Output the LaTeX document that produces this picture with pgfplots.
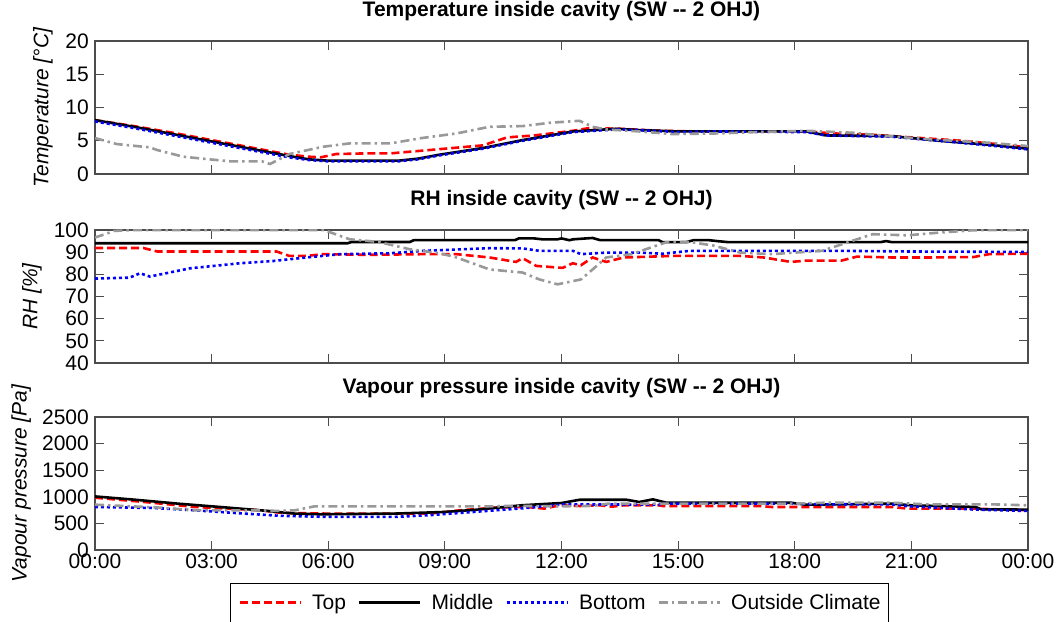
\documentclass[border=0pt]{standalone}
\usepackage{fontspec}
\setmainfont{Liberation Sans}
\usepackage{pgfplots}
\pgfplotsset{compat=1.18}
\definecolor{cred}{rgb}{1,0,0}
\definecolor{cblue}{rgb}{0,0,1}
\definecolor{cgray}{rgb}{0.6,0.6,0.6}
\definecolor{cframe}{rgb}{0.3,0.3,0.3}
\newcommand{\fs}{\fontsize{21}{25}\selectfont}
\pgfplotsset{
  myax/.style={
    scale only axis, width=933pt, height=133pt,
    xmin=0, xmax=24, xtick={0,3,...,24},
    tick align=inside, major tick length=9pt,
    axis line style={cframe, line width=1.2pt},
    every tick/.style={cframe, line width=1.2pt},
    tick label style={font=\fs},
    yticklabel style={inner xsep=6pt},
    /pgf/number format/assume math mode=true,
    /pgf/number format/1000 sep={},
    scaled y ticks=false,
    title style={at={(0.5,1)}, anchor=base, yshift=18pt, font=\fs\bfseries},
    ylabel style={font=\fs\itshape, anchor=center},
  },
  stop/.style={cred, line width=2.6pt, dash pattern=on 8pt off 4pt},
  smid/.style={black, line width=2.6pt, solid},
  sbot/.style={cblue, line width=2.6pt, dash pattern=on 3pt off 3pt},
  sout/.style={cgray, line width=2.6pt, dash pattern=on 9pt off 4pt on 2.5pt off 4pt},
}
\begin{document}
\begin{tikzpicture}
\useasboundingbox (0,0) rectangle (1059pt,621pt);
% ---------------- Temperature
\begin{axis}[myax, at={(95pt,447pt)}, anchor=south west,
  ymin=0, ymax=20, ytick={0,5,10,15,20}, xticklabels={},
  title={Temperature inside cavity (SW -{}- 2 OHJ)},
  ylabel={Temperature [°C]},
  ylabel style={at={(axis description cs:-0.0557,0.5)}}]
\addplot[stop] coordinates {(0,8.1)(1,7.2)(2,6.2)(3,5.1)(4,4.0)(5,2.9)(5.5,2.6)(5.8,2.5)(6.2,3.0)(7.0,3.1)(7.6,3.1)(8.4,3.5)(9.97,4.3)(10.6,5.5)(11.3,5.8)(12.3,6.5)(12.7,6.9)(13.5,6.8)(14.5,6.5)(15.5,6.4)(17,6.4)(18.3,6.4)(19,6.1)(20,5.9)(21,5.5)(22.3,5.0)(23.2,4.5)(24,4.0)};
\addplot[smid] coordinates {(0,8.1)(1,7.1)(2,6.0)(3,4.9)(4,3.8)(5,2.7)(5.5,2.2)(6,2.0)(7.8,2.0)(8.3,2.3)(8.86,2.9)(9.97,3.9)(11.0,5.1)(12.3,6.4)(13.4,6.8)(14,6.6)(15,6.4)(18.3,6.4)(18.8,5.8)(20.5,5.7)(21.7,5.0)(23,4.4)(24,3.8)};
\addplot[sbot] coordinates {(0,7.9)(1,6.9)(2,5.8)(3,4.7)(4,3.6)(5,2.5)(5.5,2.1)(6,1.9)(7.8,1.9)(8.3,2.2)(8.86,2.8)(9.97,3.8)(11.0,5.0)(12.3,6.3)(13.4,6.7)(14,6.6)(15,6.3)(16,6.4)(18.3,6.3)(18.8,5.8)(20.5,5.6)(21.7,5.0)(23,4.3)(24,3.7)};
\addplot[sout] coordinates {(0,5.4)(0.56,4.5)(1.41,4.0)(1.6,3.6)(2.27,2.6)(2.95,2.2)(3.5,1.9)(4.3,1.9)(4.5,1.5)(5.0,3.0)(5.87,4.1)(6.55,4.6)(7.6,4.6)(8.4,5.4)(9.3,6.1)(10.15,7.1)(11.0,7.2)(11.7,7.7)(12.46,8.0)(12.8,7.1)(13.15,6.7)(14,6.4)(14.86,6.0)(16,6.1)(17,6.3)(18.3,6.5)(19.5,6.2)(20.4,5.7)(21.5,5.2)(23,4.7)(24,4.2)};
\end{axis}
% ---------------- RH
\begin{axis}[myax, at={(95pt,258pt)}, anchor=south west,
  ymin=40, ymax=100, ytick={40,50,...,100}, xticklabels={},
  title={RH inside cavity (SW -{}- 2 OHJ)},
  ylabel={RH [\%]},
  ylabel style={at={(axis description cs:-0.0675,0.5)}}]
\addplot[stop] coordinates {(0,91.9)(1.24,91.9)(1.6,90.3)(4.67,90.3)(5.0,88.3)(5.44,88.3)(5.87,89.1)(7,88.8)(8.44,89.1)(9.3,89.1)(10.15,87.6)(10.83,85.6)(11.0,87.3)(11.35,83.8)(12.03,82.9)(12.29,85.0)(12.5,84.1)(12.8,87.6)(13.15,85.6)(13.6,87.6)(14.85,88.3)(16.6,88.3)(17.2,87.6)(17.9,85.6)(18.3,86.2)(19.2,86.2)(19.6,88.0)(20.5,87.6)(21.5,87.6)(22.6,87.8)(23.0,89.1)(24,89.3)};
\addplot[smid] coordinates {(0,94.0)(6.5,94.0)(6.6,94.6)(8.1,94.6)(8.2,95.4)(10.8,95.4)(10.9,96.2)(11.3,96.2)(11.5,95.8)(11.9,95.8)(12.0,96.2)(12.2,95.4)(12.3,95.8)(12.8,96.4)(13.0,95.4)(14.5,95.4)(14.6,94.5)(15.2,94.5)(15.4,95.4)(15.8,95.4)(16.0,95.0)(16.3,94.5)(20.2,94.5)(20.35,95.0)(20.5,94.5)(24,94.5)};
\addplot[sbot] coordinates {(0,78.1)(0.89,78.5)(1.16,80.5)(1.41,79.0)(2.44,82.7)(3.73,85.0)(4.57,86.0)(5.44,87.6)(6.3,89.1)(7.58,89.5)(8.44,90.6)(10.15,91.8)(11.0,91.7)(11.43,90.6)(12.29,90.6)(12.5,89.1)(13.15,89.8)(14.0,89.8)(14.6,89.3)(15.3,90.6)(19.2,90.6)(21,90.3)(24,90.1)};
\addplot[sout] coordinates {(0,96.6)(0.5,99.6)(1,100)(5.87,100)(5.95,99.6)(6.55,95.8)(7.3,94.6)(8.1,91.3)(8.87,89.5)(9.3,87.6)(10.15,82.2)(11.0,80.8)(11.43,77.7)(11.9,75.5)(12.5,77.7)(12.8,82.2)(13.15,87.6)(13.8,89.1)(14.7,94.5)(15.3,94.6)(15.9,93.0)(16.6,89.8)(17.4,89.1)(18.7,90.6)(19.6,95.8)(20.0,98.1)(20.9,97.6)(21.7,98.8)(22.6,99.9)(24,100)};
\end{axis}
% ---------------- Vapour pressure
\begin{axis}[myax, at={(95pt,71pt)}, anchor=south west,
  ymin=0, ymax=2500, ytick={0,500,...,2500},
  xticklabels={00:00,03:00,06:00,09:00,12:00,15:00,18:00,21:00,00:00},
  title={Vapour pressure inside cavity (SW -{}- 2 OHJ)},
  ylabel={Vapour pressure [Pa]},
  ylabel style={at={(axis description cs:-0.0792,0.5)}},
  legend columns=4,
  legend image code/.code={\draw[#1, line width=2.6pt] (0pt,0pt) -- (61pt,0pt);},
  legend style={at={(axis description cs:0.4979,-0.248)}, anchor=north,
    font=\fs, draw=black, fill=white,
    inner xsep=8pt, inner ysep=8pt,
    nodes={inner xsep=0pt, inner ysep=3pt},
    /tikz/every odd column/.style={column sep=10pt},
    /tikz/every even column/.style={column sep=12pt}}]
\addplot[stop] coordinates {(0,983)(1.28,902)(2.57,809)(4.28,746)(4.8,697)(6,684)(8.6,684)(9.4,746)(10.3,796)(11.1,809)(11.56,778)(11.95,840)(12.5,827)(13.0,840)(13.3,815)(13.6,840)(14.5,840)(14.6,827)(17.1,827)(17.4,809)(20.5,809)(20.9,778)(22.6,778)(24,746)};
\addlegendentry{Top}
\addplot[smid] coordinates {(0,1007)(1.03,945)(2.14,871)(3.43,796)(4.45,734)(5.14,684)(5.8,671)(7.7,684)(9.0,715)(9.85,759)(10.96,840)(12.0,883)(12.47,945)(13.67,945)(14.0,902)(14.35,952)(14.7,889)(17.9,889)(18.28,852)(20.5,871)(21.0,840)(22.65,809)(22.8,765)(24,759)};
\addlegendentry{Middle}
\addplot[sbot] coordinates {(0,809)(1.5,790)(2.57,746)(3.85,684)(4.8,641)(6,622)(7.7,622)(8.57,653)(9.4,697)(10.3,746)(11.1,790)(12.06,858)(14.5,852)(14.6,871)(18,871)(18.8,858)(20.5,858)(20.94,821)(22.65,759)(24,734)};
\addlegendentry{Bottom}
\addplot[sout] coordinates {(0,852)(1.7,796)(2.57,746)(4.28,746)(4.7,734)(5.14,746)(5.65,821)(10.3,821)(10.7,830)(12.0,821)(12.8,830)(13.2,871)(17.95,871)(18.8,889)(20.5,889)(21.4,858)(23.1,858)(24,840)};
\addlegendentry{Outside Climate}
\end{axis}
\end{tikzpicture}
\end{document}
